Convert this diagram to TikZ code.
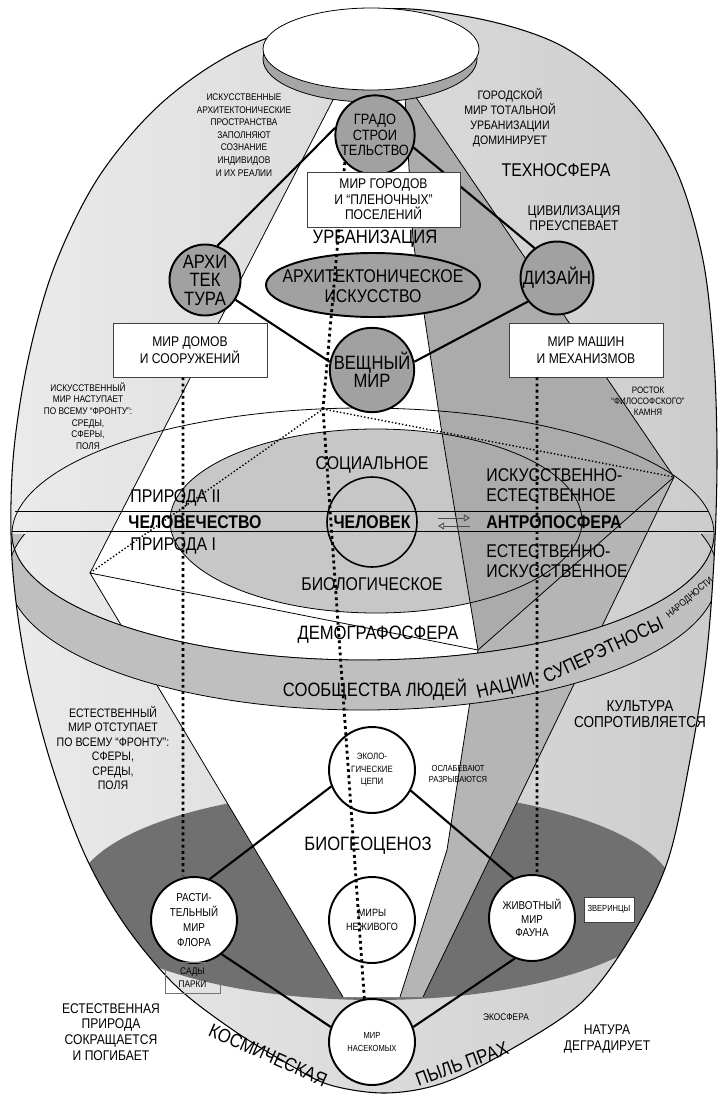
\documentclass[tikz,border=0pt]{standalone}
\usepackage{fontspec}
\setmainfont{Liberation Sans}[FakeStretch=0.86]
\usetikzlibrary{arrows.meta}
\newcommand{\fsz}[2]{\fontsize{#1}{#2}\selectfont}
\newcommand{\eggline}{plot[smooth cycle, tension=0.55] coordinates {(370,10) (470,17) (560,45) (630,100) (676,170) (703,260) (714,360) (717,460) (714,560) (706,660) (690,760) (668,860) (632,935) (581,1003) (501,1055) (440,1084) (385,1093) (330,1085) (290,1065) (233,1030) (175,985) (125,925) (85,855) (50,760) (25,660) (12,560) (13,460) (28,360) (55,265) (100,175) (165,100) (250,45)}}
\tikzset{
  grayorb/.style={circle, draw, line width=1.1pt, fill=black!37, align=center, inner sep=0pt},
  whiteorb/.style={circle, draw, line width=1.1pt, fill=white, align=center, inner sep=0pt, minimum size=1.72cm},
  worldbox/.style={draw=black!75, fill=white, align=center, inner sep=0pt, line width=0.5pt},
  tie/.style={line width=1.2pt},
  dotline/.style={line width=1.6pt, dash pattern=on 1.6pt off 1.9pt},
  hidline/.style={line width=0.8pt, dash pattern=on 0.8pt off 1.2pt},
  thinline/.style={line width=0.45pt},
  lbl/.style={align=center, inner sep=0pt, text=black},
}
\begin{document}
\begin{tikzpicture}[x=0.02cm, y=-0.02cm]
\useasboundingbox (0,0) rectangle (722,1095);
%%%%%%%%%%%%% egg and biocenosis
\shade[left color=black!8, right color=black!20] \eggline;
\begin{scope}
  \clip \eggline;
  \fill[black!56] (375,895) ellipse [x radius=300, y radius=105];
\end{scope}
%%%%%%%%%%%%% octahedron
\coordinate (lv) at (90,573);
\coordinate (fv) at (478,650);
\coordinate (rv) at (674,477);
\coordinate (bv) at (323,409);
\coordinate (ltop) at (335,96);
\coordinate (ftop) at (405,96);
\coordinate (rtop) at (415,96);
\coordinate (lbot) at (343,997);
\coordinate (fbot) at (400,997);
\coordinate (rbot) at (423,997);
\fill[white] (ltop) -- (lv) -- (lbot) -- (fbot) -- (447,850) -- (fv) -- (441,427) -- (413,240) -- (ftop) -- cycle;
\fill[black!22] (376,521) ellipse [x radius=206, y radius=92];
\fill[black!33] (ftop) -- (413,240) -- (441,427) -- (fv) -- (rv) -- (rtop) -- cycle;
\fill[black!29] (fv) -- (447,850) -- (fbot) -- (rbot) -- (rv) -- cycle;
\draw[thinline] (ltop) -- (lv) -- (lbot);
\draw[thinline] (ftop) -- (413,240) -- (441,427) -- (fv) -- (447,850) -- (fbot);
\draw[thinline] (rtop) -- (rv) -- (rbot);
\draw[thinline] (lv) -- (fv) -- (rv);
\draw[hidline] (lv) -- (bv) -- (rv);
%%%%%%%%%%%%% ring
\draw[thinline] (363,534) ellipse [x radius=351, y radius=126];
\draw[thinline] (376,521) ellipse [x radius=206, y radius=92];
\draw[thinline] (15,511) -- (709,511);
\draw[thinline] (12,531) -- (714,531);
\begin{scope}
  \clip \eggline;
  \clip (0,534) rectangle (722,800);
  \fill[black!25, even odd rule] (363,575) ellipse [x radius=355, y radius=135] (363,534) ellipse [x radius=351, y radius=126];
  \draw[thinline] (363,575) ellipse [x radius=355, y radius=135];
  \draw[thinline] (363,534) ellipse [x radius=351, y radius=126];
\end{scope}
\draw[line width=0.6pt] \eggline;
%%%%%%%%%%%%% cap
\filldraw[fill=black!35, thinline] (370,59) ellipse [x radius=107, y radius=43];
\filldraw[fill=white, thinline] (371,49) ellipse [x radius=108, y radius=41];
%%%%%%%%%%%%% orbs
\filldraw[fill=black!37, line width=1.1pt] (373,285) ellipse [x radius=107, y radius=32];
\node[lbl, font=\fsz{10.5}{11.3}] (artart) at (373,286) {АРХИТЕКТОНИЧЕСКОЕ\\ИСКУССТВО};
\node[grayorb, minimum size=1.52cm, font=\fsz{8.5}{8.8}] (grado) at (375,135) {ГРАДО\\СТРОИ\\ТЕЛЬСТВО};
\node[grayorb, minimum size=1.42cm, font=\fsz{11}{10.5}] (arch) at (205,280) {АРХИ\\ТЕК\\ТУРА};
\node[grayorb, minimum size=1.46cm, font=\fsz{11}{11}] (design) at (557,278) {ДИЗАЙН};
\node[grayorb, minimum size=1.48cm, font=\fsz{11}{10.5}] (thing) at (372,370) {ВЕЩНЫЙ\\МИР};
\node[circle, draw, line width=0.9pt, minimum size=1.8cm, inner sep=0pt, font=\bfseries\fsz{10.5}{11}] (man) at (372,522) {ЧЕЛОВЕК};
\node[whiteorb, font=\fsz{5.2}{7}] (eco) at (372,770) {ЭКОЛО-\\ГИЧЕСКИЕ\\ЦЕПИ};
\node[whiteorb, font=\fsz{6}{7.5}] (nonlife) at (372,920) {МИРЫ\\НЕЖИВОГО};
\node[whiteorb, font=\fsz{5}{7}] (insects) at (372,1042) {МИР\\НАСЕКОМЫХ};
\node[whiteorb, font=\fsz{6.5}{8.5}] (flora) at (194,920) {РАСТИ-\\ТЕЛЬНЫЙ\\МИР\\ФЛОРА};
\node[whiteorb, font=\fsz{6.5}{7.6}] (fauna) at (532,918) {ЖИВОТНЫЙ\\МИР\\ФАУНА};
%%%%%%%%%%%%% ties
\draw[tie] (grado.170) -- (arch.70);
\draw[tie] (grado.342) -- (design.127);
\draw[tie] (arch.327) -- (thing.169);
\draw[tie] (design.219) -- (thing.11);
\draw[tie] (eco.202) -- (flora.69);
\draw[tie] (eco.332) -- (fauna.115);
\draw[tie] (flora.309) -- (insects.160);
\draw[tie] (fauna.247) -- (insects.20);
%%%%%%%%%%%%% boxes and dotted lines
\node[worldbox, minimum width=3.08cm, minimum height=1.08cm, font=\fsz{8}{9.4}] (houses) at (190,350) {МИР ДОМОВ\\И СООРУЖЕНИЙ};
\node[worldbox, minimum width=3.08cm, minimum height=1.08cm, font=\fsz{8}{9.4}] (machines) at (586,350) {МИР МАШИН\\И МЕХАНИЗМОВ};
\node[worldbox, fill=none, draw=black!55, minimum width=1.1cm, minimum height=0.62cm, font=\fsz{5.5}{7}] (gardens) at (192.5,977.5) {САДЫ\\ПАРКИ};
\node[worldbox, minimum width=1.0cm, minimum height=0.5cm, font=\fsz{5}{6}] (zoo) at (609,909.5) {ЗВЕРИНЦЫ};
\draw[dotline] (grado.222) -- (bv) -- (insects.100);
\draw[dotline] ([xshift=-0.14cm]houses.south) -- ([xshift=-0.22cm]flora.north);
\draw[dotline] ([xshift=-0.98cm]machines.south) -- ([xshift=0.1cm]fauna.north);
\node[worldbox, minimum width=3.06cm, minimum height=1.1cm, font=\fsz{8}{8.8}] (cities) at (383.5,199.5) {МИР ГОРОДОВ\\И “ПЛЕНОЧНЫХ”\\ПОСЕЛЕНИЙ};
%%%%%%%%%%%%% arrows
\coordinate (arl) at (438,518); \coordinate (arr) at (470,518);
\coordinate (brl) at (438,526); \coordinate (brr) at (470,526);
\draw[line width=0.5pt, draw=black!70, -{Triangle[open, length=3.5pt, width=4pt]}] (arl) -- (arr);
\draw[line width=0.5pt, draw=black!70, -{Triangle[open, length=3.5pt, width=4pt]}] (brr) -- (brl);
%%%%%%%%%%%%% labels
\node[lbl, font=\fsz{5.5}{7.2}] (artspace) at (244,135) {ИСКУССТВЕННЫЕ\\АРХИТЕКТОНИЧЕСКИЕ\\ПРОСТРАНСТВА\\ЗАПОЛНЯЮТ\\СОЗНАНИЕ\\ИНДИВИДОВ\\И ИХ РЕАЛИИ};
\node[lbl, font=\fsz{7}{8.5}] (citymir) at (510,118) {ГОРОДСКОЙ\\МИР ТОТАЛЬНОЙ\\УРБАНИЗАЦИИ\\ДОМИНИРУЕТ};
\node[lbl, font=\fsz{10.5}{11}] (techno) at (556,170) {ТЕХНОСФЕРА};
\node[lbl, font=\fsz{8}{8.5}] (civil) at (574,218) {ЦИВИЛИЗАЦИЯ\\ПРЕУСПЕВАЕТ};
\node[lbl, font=\fsz{11}{11}] (urban) at (375,239) {УРБАНИЗАЦИЯ};
\node[lbl, font=\fsz{5.5}{6.6}] (advance) at (88,416) {ИСКУССТВЕННЫЙ\\МИР НАСТУПАЕТ\\ПО ВСЕМУ “ФРОНТУ”:\\СРЕДЫ,\\СФЕРЫ,\\ПОЛЯ};
\node[lbl, font=\fsz{5.3}{6.3}] (stone) at (648,401) {РОСТОК\\“ФИЛОСОФСКОГО”\\КАМНЯ};
\node[lbl, font=\fsz{10.5}{11}] (social) at (372,465) {СОЦИАЛЬНОЕ};
\node[lbl, anchor=west, font=\fsz{10.5}{11}] (nat2) at (130,498) {ПРИРОДА II};
\node[lbl, anchor=west, font=\bfseries\fsz{10.5}{11}] (mankind) at (128,522) {ЧЕЛОВЕЧЕСТВО};
\node[lbl, anchor=west, font=\fsz{10.5}{11}] (nat1) at (130,546) {ПРИРОДА I};
\node[lbl, anchor=west, font=\bfseries\fsz{10.5}{11}] (anthro) at (486,522) {АНТРОПОСФЕРА};
\node[lbl, anchor=west, align=left, font=\fsz{10.5}{11.3}] (artnat) at (486,485) {ИСКУССТВЕННО-\\ЕСТЕСТВЕННОЕ};
\node[lbl, anchor=west, align=left, font=\fsz{10.5}{11.3}] (natart) at (486,561) {ЕСТЕСТВЕННО-\\ИСКУССТВЕННОЕ};
\node[lbl, font=\fsz{10.5}{11}] (biolog) at (372,584) {БИОЛОГИЧЕСКОЕ};
\node[lbl, font=\fsz{11}{11}] (demog) at (378,635) {ДЕМОГРАФОСФЕРА};
\node[lbl, font=\fsz{11}{11}] (people) at (375,690) {СООБЩЕСТВА ЛЮДЕЙ};
\node[lbl, rotate=14, font=\fsz{11}{11}] (nations) at (506,687) {НАЦИИ};
\node[lbl, rotate=25, font=\fsz{11}{11}] (superethn) at (603,650) {СУПЕРЭТНОСЫ};
\node[lbl, rotate=40, font=\fsz{5.5}{6}] (folks) at (690,598) {НАРОДНОСТИ};
\node[lbl, font=\fsz{7}{8.3}] (retreat) at (113,748) {ЕСТЕСТВЕННЫЙ\\МИР ОТСТУПАЕТ\\ПО ВСЕМУ “ФРОНТУ”:\\СФЕРЫ,\\СРЕДЫ,\\ПОЛЯ};
\node[lbl, font=\fsz{9}{9}] (culture) at (640,714) {КУЛЬТУРА\\СОПРОТИВЛЯЕТСЯ};
\node[lbl, font=\fsz{5}{6.5}] (weaken) at (458,774) {ОСЛАБЕВАЮТ\\РАЗРЫВАЮТСЯ};
\node[lbl, font=\fsz{11}{11}] (biogeo) at (368,846) {БИОГЕОЦЕНОЗ};
\node[lbl, font=\fsz{8}{9}] (shrink) at (111,1032) {ЕСТЕСТВЕННАЯ\\ПРИРОДА\\СОКРАЩАЕТСЯ\\И ПОГИБАЕТ};
\node[lbl, rotate=-24, font=\fsz{11}{11}] (cosmic) at (268,1055) {КОСМИЧЕСКАЯ};
\node[lbl, rotate=20, font=\fsz{11}{11}] (dust) at (462,1064) {ПЫЛЬ ПРАХ};
\node[lbl, font=\fsz{5.5}{6}] (ecosph) at (506,1017) {ЭКОСФЕРА};
\node[lbl, font=\fsz{8}{9}] (degrade) at (607,1039) {НАТУРА\\ДЕГРАДИРУЕТ};
\end{tikzpicture}
\end{document}
